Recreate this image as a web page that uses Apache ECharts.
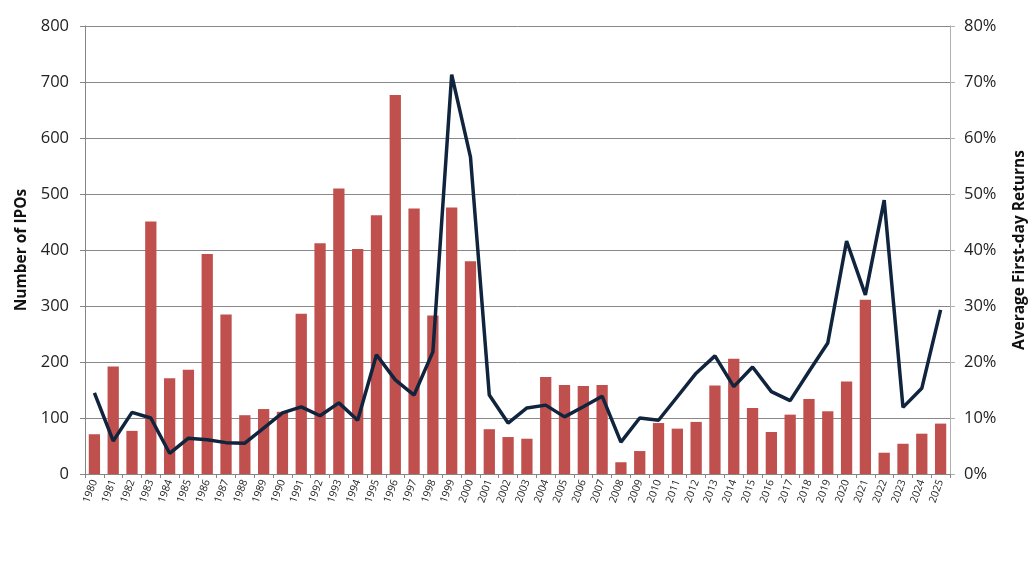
<!DOCTYPE html>
<html>
<head>
<meta charset="utf-8">
<script src="https://cdn.jsdelivr.net/npm/echarts@6/dist/echarts.min.js"></script>
<style>
  html, body { margin: 0; padding: 0; background: #fff; }
  #chart { width: 1036px; height: 568px; }
</style>
</head>
<body>
<div id="chart"></div>
<script>
  const years = [];
  for (let y = 1980; y <= 2025; y++) years.push(String(y));

  // number of IPOs per year
  const ipoCounts = [
    71, 192, 77, 451, 171, 186, 393, 285, 105, 116,
    111, 286, 412, 510, 402, 462, 677, 474, 283, 476,
    380, 80, 66, 63, 173, 159, 157, 159, 21, 41,
    91, 81, 93, 158, 206, 118, 75, 106, 134, 112,
    165, 311, 38, 54, 72, 90
  ];

  // average first-day return, percent
  const firstDayReturns = [
    14.5, 5.9, 11.0, 10.0, 3.7, 6.4, 6.1, 5.6, 5.5, 8.2,
    10.9, 12.0, 10.4, 12.7, 9.6, 21.3, 16.8, 14.1, 21.8, 71.3,
    56.6, 14.1, 9.1, 11.8, 12.3, 10.2, 12.0, 13.9, 5.7, 10.0,
    9.6, 13.8, 18.0, 21.1, 15.6, 19.1, 14.7, 13.1, 18.3, 23.4,
    41.6, 32.0, 48.9, 11.9, 15.3, 29.3
  ];

  const leftTicks = [0, 800, 100];
  const rightTicks = [0, 80, 10];

  const font = "'Open Sans', 'Liberation Sans', sans-serif";
  const chart = echarts.init(document.getElementById("chart"));

  chart.setOption({
    animation: false,
    grid: { left: 85, right: 81, top: 26, bottom: 94 },
    xAxis: {
      type: "category",
      data: years,
      axisLine: { lineStyle: { color: "#868686" } },
      axisTick: { show: true, length: 4, lineStyle: { color: "#868686" } },
      axisLabel: {
        interval: 0,
        rotate: 70,
        fontSize: 10.5,
        color: "#222",
        fontFamily: font,
        margin: 6
      }
    },
    yAxis: [
      {
        type: "value",
        min: leftTicks[0],
        max: leftTicks[1],
        interval: leftTicks[2],
        name: "Number of IPOs",
        nameLocation: "middle",
        nameRotate: 90,
        nameGap: 50,
        nameTextStyle: { fontSize: 15.5, fontWeight: "bold", color: "#111", fontFamily: font },
        axisLine: { show: true, lineStyle: { color: "#868686" } },
        axisTick: { show: true, length: 5, lineStyle: { color: "#868686" } },
        axisLabel: { fontSize: 16.5, color: "#222", fontFamily: font, margin: 16 },
        splitLine: { lineStyle: { color: "#888888", width: 1 } }
      },
      {
        type: "value",
        min: rightTicks[0],
        max: rightTicks[1],
        interval: rightTicks[2],
        name: "Average First-day Returns",
        nameLocation: "middle",
        nameRotate: 90,
        nameGap: 62,
        nameTextStyle: { fontSize: 15.5, fontWeight: "bold", color: "#111", fontFamily: font },
        axisLine: { show: true, lineStyle: { color: "#b0b0b0" } },
        axisTick: { show: true, length: 5, lineStyle: { color: "#b0b0b0" } },
        axisLabel: { fontSize: 16.5, color: "#222", fontFamily: font, margin: 14, formatter: "{value}%" },
        splitLine: { show: false }
      }
    ],
    series: [
      {
        name: "Number of IPOs",
        type: "bar",
        data: ipoCounts,
        barCategoryGap: "40%",
        itemStyle: { color: "#c0504d" }
      },
      {
        name: "Average First-day Returns",
        type: "line",
        yAxisIndex: 1,
        data: firstDayReturns,
        showSymbol: false,
        lineStyle: { color: "#10243e", width: 3.5 },
        itemStyle: { color: "#10243e" }
      }
    ]
  });
</script>
</body>
</html>
